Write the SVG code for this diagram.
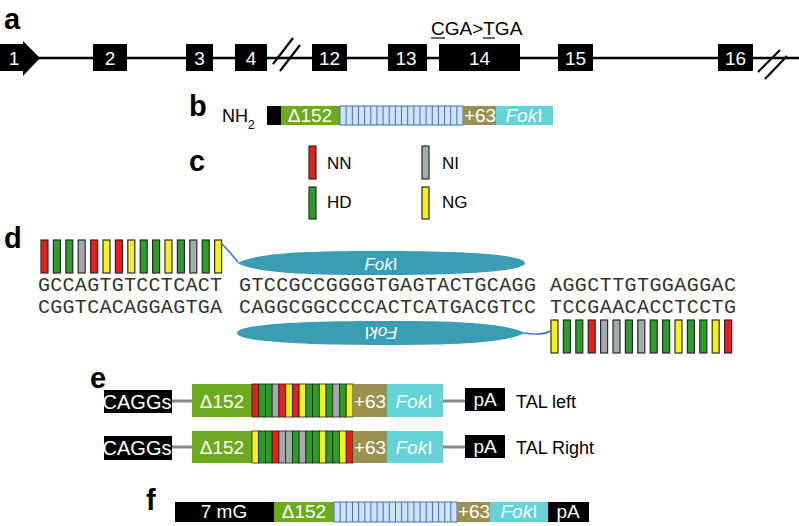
<svg xmlns="http://www.w3.org/2000/svg" width="799" height="526" viewBox="0 0 799 526">
<style>
text{font-family:"Liberation Sans",Arial,sans-serif}
.lbl{font-weight:bold;font-size:29px;fill:#000}
.ex{fill:#000}
.ext{fill:#fff;font-size:19px;text-anchor:middle}
.wt{fill:#fff;font-size:19px;text-anchor:middle}
.bk{fill:#000;font-size:18px}
.seq{font-family:"Liberation Mono","Courier New",monospace;font-size:20px;fill:#333}
.grn{fill:#6dab1e}
.olv{fill:#9a9150}
.cyn{fill:#62d3d8}
.rep{fill:#cfe2f6;stroke:#3d6fc6;stroke-width:1}
.rl{stroke:#3d6fc6;stroke-width:1}
.R{fill:#e5201b}.G{fill:#2a9e28}.Y{fill:#f4f21e}.A{fill:#a4abad}
.bar rect{stroke:#2b2b2b;stroke-width:1.2}
.stripe rect{stroke:#222;stroke-width:0.8}
.conn{stroke:#888;stroke-width:3;fill:none}
.blue{stroke:#3b6fd0;stroke-width:1.5;fill:none}
.ell{fill:#399db3}
</style>

<!-- a -->
<g id="panel-a">
<text class="lbl" x="4" y="29">a</text>
<line x1="0" y1="58" x2="799" y2="58" stroke="#000" stroke-width="2.6"/>
<g id="exon1"><path class="ex" d="M0,44 H23 V41 L40,58 L23,76 V71 H0 Z"/><text class="ext" x="14" y="65">1</text></g>
<g id="exon2"><rect class="ex" x="93" y="44" width="34" height="27"/><text class="ext" x="110" y="65">2</text></g>
<g id="exon3"><rect class="ex" x="186" y="44" width="27" height="27"/><text class="ext" x="199.5" y="65">3</text></g>
<g id="exon4"><rect class="ex" x="235" y="44" width="32" height="27"/><text class="ext" x="251" y="65">4</text></g>
<g id="break1"><line x1="273" y1="64" x2="293" y2="38" stroke="#000" stroke-width="2.2"/><line x1="280" y1="71" x2="300" y2="45" stroke="#000" stroke-width="2.2"/></g>
<g id="exon12"><rect class="ex" x="312" y="44" width="35" height="27"/><text class="ext" x="329.5" y="65">12</text></g>
<g id="exon13"><rect class="ex" x="388" y="44" width="39" height="27"/><text class="ext" x="406" y="65">13</text></g>
<g id="exon14"><rect class="ex" x="439" y="44" width="81" height="27"/><text class="ext" x="479.5" y="65">14</text></g>
<g id="exon15"><rect class="ex" x="558" y="44" width="35" height="27"/><text class="ext" x="575.5" y="65">15</text></g>
<g id="exon16"><rect class="ex" x="718" y="44" width="35" height="27"/><text class="ext" x="735.5" y="65">16</text></g>
<g id="break2"><line x1="758" y1="72" x2="780" y2="50" stroke="#000" stroke-width="2.2"/><line x1="765" y1="79" x2="787" y2="56" stroke="#000" stroke-width="2.2"/></g>
<g id="mutation"><text x="431" y="35" style="font-size:19px">CGA&gt;TGA</text>
<line x1="431" y1="38" x2="445" y2="38" stroke="#000" stroke-width="1.2"/><line x1="483" y1="38" x2="495" y2="38" stroke="#000" stroke-width="1.2"/></g>
</g>

<!-- b -->
<g id="panel-b">
<text class="lbl" x="189" y="116">b</text>
<text class="bk" x="222" y="122">NH<tspan font-size="12" dy="7">2</tspan></text>
<rect x="267" y="106" width="14" height="19" fill="#000"/>
<rect class="grn" x="281" y="106" width="59" height="19"/>
<text class="wt" x="310" y="122">Δ152</text>
<rect class="rep" x="340" y="106" width="123" height="19"/>
<path class="rl" d="M346.15,106V125M352.3,106V125M358.45,106V125M364.6,106V125M370.75,106V125M376.9,106V125M383.05,106V125M389.2,106V125M395.35,106V125M401.5,106V125M407.65,106V125M413.8,106V125M419.95,106V125M426.1,106V125M432.25,106V125M438.4,106V125M444.55,106V125M450.7,106V125M456.85,106V125"/>
<rect class="olv" x="463" y="106" width="33" height="19"/>
<text class="wt" x="480" y="122">+63</text>
<rect class="cyn" x="496" y="106" width="57" height="19"/>
<text class="wt" x="524" y="122"><tspan font-style="italic">Fok</tspan>I</text>
</g>

<!-- c -->
<g id="panel-c">
<text class="lbl" x="189" y="171">c</text>
<g class="bar">
<rect class="R" x="309" y="146" width="7" height="33"/>
<rect class="A" x="422" y="146" width="7" height="33"/>
<rect class="G" x="309" y="187" width="7" height="32"/>
<rect class="Y" x="422" y="187" width="7" height="32"/>
</g>
<text x="327" y="169" style="font-size:17px">NN</text>
<text x="442" y="169" style="font-size:17px">NI</text>
<text x="327" y="208" style="font-size:17px">HD</text>
<text x="442" y="208" style="font-size:17px">NG</text>
</g>

<!-- d -->
<g id="panel-d">
<text class="lbl" x="4" y="248">d</text>
<g id="tal-left-bars" class="bar">
<rect class="R" x="41" y="240" width="7" height="33"/>
<rect class="G" x="53.4" y="240" width="7" height="33"/>
<rect class="G" x="65.8" y="240" width="7" height="33"/>
<rect class="A" x="78.2" y="240" width="7" height="33"/>
<rect class="R" x="90.6" y="240" width="7" height="33"/>
<rect class="Y" x="103" y="240" width="7" height="33"/>
<rect class="R" x="115.4" y="240" width="7" height="33"/>
<rect class="Y" x="127.8" y="240" width="7" height="33"/>
<rect class="G" x="140.2" y="240" width="7" height="33"/>
<rect class="G" x="152.6" y="240" width="7" height="33"/>
<rect class="Y" x="165" y="240" width="7" height="33"/>
<rect class="G" x="177.4" y="240" width="7" height="33"/>
<rect class="A" x="189.8" y="240" width="7" height="33"/>
<rect class="G" x="202.2" y="240" width="7" height="33"/>
<rect class="Y" x="214.6" y="240" width="7" height="33"/>
</g>
<g id="foki-top">
<path class="ell" d="M237,263 C260,251 330,251 381,251 C470,251 525,255 525,263 C525,271 470,275 381,275 C330,275 260,275 237,263 Z"/>
<text x="381" y="270" style="font-size:17px;fill:#fff;text-anchor:middle"><tspan font-style="italic">Fok</tspan>I</text>
</g>
<text class="seq" x="38" y="291" textLength="184" lengthAdjust="spacing">GCCAGTGTCCTCACT</text>
<text class="seq" x="239" y="291" textLength="297" lengthAdjust="spacing">GTCCGCCGGGGTGAGTACTGCAGG</text>
<text class="seq" x="550" y="291" textLength="186" lengthAdjust="spacing">AGGCTTGTGGAGGAC</text>
<text class="seq" x="38" y="313" textLength="184" lengthAdjust="spacing">CGGTCACAGGAGTGA</text>
<text class="seq" x="239" y="313" textLength="297" lengthAdjust="spacing">CAGGCGGCCCCACTCATGACGTCC</text>
<text class="seq" x="550" y="313" textLength="186" lengthAdjust="spacing">TCCGAACACCTCCTG</text>
<g id="foki-bottom">
<path class="ell" d="M525,333 C502,345 432,345 381,345 C292,345 237,341 237,333 C237,325 292,321 381,321 C432,321 502,321 525,333 Z"/>
<text transform="rotate(180 381 333)" x="381" y="339" style="font-size:17px;fill:#fff;text-anchor:middle"><tspan font-style="italic">Fok</tspan>I</text>
</g>
<g id="tal-right-bars" class="bar">
<rect class="Y" x="551" y="320" width="7" height="33"/>
<rect class="G" x="563.4" y="320" width="7" height="33"/>
<rect class="G" x="575.8" y="320" width="7" height="33"/>
<rect class="R" x="588.2" y="320" width="7" height="33"/>
<rect class="A" x="600.6" y="320" width="7" height="33"/>
<rect class="A" x="613" y="320" width="7" height="33"/>
<rect class="G" x="625.4" y="320" width="7" height="33"/>
<rect class="A" x="637.8" y="320" width="7" height="33"/>
<rect class="G" x="650.2" y="320" width="7" height="33"/>
<rect class="G" x="662.6" y="320" width="7" height="33"/>
<rect class="Y" x="675" y="320" width="7" height="33"/>
<rect class="G" x="687.4" y="320" width="7" height="33"/>
<rect class="G" x="699.8" y="320" width="7" height="33"/>
<rect class="Y" x="712.2" y="320" width="7" height="33"/>
<rect class="R" x="724.6" y="320" width="7" height="33"/>
</g>
</g>

<!-- e -->
<g id="panel-e">
<text class="lbl" x="90" y="388">e</text>
<g id="tal-left">
<rect x="104" y="390" width="68" height="23" fill="#000"/>
<text class="wt" x="137" y="409" style="font-size:20px">CAGGs</text>
<rect class="grn" x="192" y="384" width="60" height="33"/>
<text class="wt" x="222" y="408">Δ152</text>
<g class="stripe">
<rect class="R" x="252" y="384" width="6.73" height="33"/>
<rect class="G" x="258.73" y="384" width="6.73" height="33"/>
<rect class="G" x="265.46" y="384" width="6.73" height="33"/>
<rect class="A" x="272.19" y="384" width="6.73" height="33"/>
<rect class="R" x="278.92" y="384" width="6.73" height="33"/>
<rect class="Y" x="285.65" y="384" width="6.73" height="33"/>
<rect class="R" x="292.38" y="384" width="6.73" height="33"/>
<rect class="Y" x="299.11" y="384" width="6.73" height="33"/>
<rect class="G" x="305.84" y="384" width="6.73" height="33"/>
<rect class="G" x="312.57" y="384" width="6.73" height="33"/>
<rect class="Y" x="319.3" y="384" width="6.73" height="33"/>
<rect class="G" x="326.03" y="384" width="6.73" height="33"/>
<rect class="A" x="332.76" y="384" width="6.73" height="33"/>
<rect class="G" x="339.49" y="384" width="6.73" height="33"/>
<rect class="Y" x="346.22" y="384" width="6.73" height="33"/>
</g>
<rect class="olv" x="353" y="384" width="34" height="33"/>
<text class="wt" x="370" y="408">+63</text>
<rect class="cyn" x="387" y="384" width="56" height="33"/>
<text class="wt" x="414" y="408"><tspan font-style="italic">Fok</tspan>I</text>
<rect x="465" y="388" width="40" height="23" fill="#000"/>
<text class="wt" x="485" y="406">pA</text>
<text x="516" y="408" style="font-size:18px">TAL left</text>
</g>
<g id="tal-right">
<rect x="104" y="436" width="68" height="24" fill="#000"/>
<text class="wt" x="137" y="455" style="font-size:20px">CAGGs</text>
<rect class="grn" x="192" y="431" width="60" height="32"/>
<text class="wt" x="222" y="454">Δ152</text>
<g class="stripe">
<rect class="Y" x="252" y="431" width="6.73" height="32"/>
<rect class="G" x="258.73" y="431" width="6.73" height="32"/>
<rect class="G" x="265.46" y="431" width="6.73" height="32"/>
<rect class="R" x="272.19" y="431" width="6.73" height="32"/>
<rect class="A" x="278.92" y="431" width="6.73" height="32"/>
<rect class="A" x="285.65" y="431" width="6.73" height="32"/>
<rect class="G" x="292.38" y="431" width="6.73" height="32"/>
<rect class="A" x="299.11" y="431" width="6.73" height="32"/>
<rect class="G" x="305.84" y="431" width="6.73" height="32"/>
<rect class="G" x="312.57" y="431" width="6.73" height="32"/>
<rect class="Y" x="319.3" y="431" width="6.73" height="32"/>
<rect class="G" x="326.03" y="431" width="6.73" height="32"/>
<rect class="G" x="332.76" y="431" width="6.73" height="32"/>
<rect class="Y" x="339.49" y="431" width="6.73" height="32"/>
<rect class="R" x="346.22" y="431" width="6.73" height="32"/>
</g>
<rect class="olv" x="353" y="431" width="34" height="32"/>
<text class="wt" x="370" y="454">+63</text>
<rect class="cyn" x="387" y="431" width="56" height="32"/>
<text class="wt" x="414" y="454"><tspan font-style="italic">Fok</tspan>I</text>
<rect x="465" y="435" width="40" height="23" fill="#000"/>
<text class="wt" x="485" y="453">pA</text>
<text x="516" y="454" style="font-size:18px">TAL Right</text>
</g>
</g>

<!-- f -->
<g id="panel-f">
<text class="lbl" x="146" y="510">f</text>
<rect x="175" y="502" width="99" height="20" fill="#000"/>
<text class="wt" x="224" y="518">7 mG</text>
<rect class="grn" x="274" y="502" width="60" height="20"/>
<text class="wt" x="304" y="518">Δ152</text>
<rect class="rep" x="334" y="502" width="123" height="20"/>
<path class="rl" d="M340.15,502V522M346.3,502V522M352.45,502V522M358.6,502V522M364.75,502V522M370.9,502V522M377.05,502V522M383.2,502V522M389.35,502V522M395.5,502V522M401.65,502V522M407.8,502V522M413.95,502V522M420.1,502V522M426.25,502V522M432.4,502V522M438.55,502V522M444.7,502V522M450.85,502V522"/>
<rect class="olv" x="457" y="502" width="33" height="20"/>
<text class="wt" x="474" y="518">+63</text>
<rect class="cyn" x="490" y="502" width="58" height="20"/>
<text class="wt" x="519" y="518"><tspan font-style="italic">Fok</tspan>I</text>
<rect x="548" y="502" width="41" height="20" fill="#000"/>
<text class="wt" x="568" y="518">pA</text>
</g>

<!-- connectors -->
<g id="connectors">
<line class="conn" x1="172" y1="401" x2="192" y2="401"/>
<line class="conn" x1="443" y1="401" x2="465" y2="401"/>
<line class="conn" x1="172" y1="447" x2="192" y2="447"/>
<line class="conn" x1="443" y1="447" x2="465" y2="447"/>
<path class="blue" d="M221,243 Q228,250 238,262"/>
<path class="blue" d="M524,333 Q540,336 551,331"/>
</g>
</svg>
